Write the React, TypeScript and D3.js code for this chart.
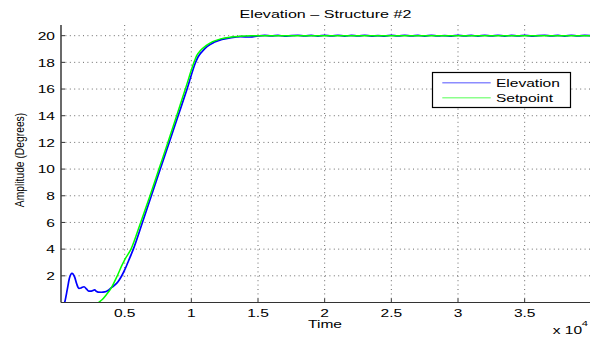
import React from "react";
import * as d3 from "d3";

const titleText = "Elevation \u2013 Structure #2";
const xLabel = "Time";
const yLabel = "Amplitude (Degrees)";
const seriesNames = ["Elevation", "Setpoint"];

const xTicks = [5000, 10000, 15000, 20000, 25000, 30000, 35000];
const xTickLabels = ["0.5", "1", "1.5", "2", "2.5", "3", "3.5"];
const yTicks = [2, 4, 6, 8, 10, 12, 14, 16, 18, 20];

const elevTime = [
  300, 500, 700, 850, 1050, 1250, 1400, 1575, 1750, 1950, 2150, 2300, 2500, 2750, 2900, 3000, 3250, 3500, 3750, 4000,
  4250, 4500, 4750, 5000, 5300, 5650, 6330, 7000, 7670, 8340, 9010, 9680, 10300, 10500, 10800, 11200, 11700, 12300,
  13000, 13700, 14400, 15000, 15500, 16000, 16500, 17000, 17500, 18000, 18500, 19000, 19500, 20000, 20500, 21000,
  21500, 22000, 22500, 23000, 23500, 24000, 24500, 25000, 25500, 26000, 26500, 27000, 27500, 28000, 28500, 29000,
  29500, 30000, 30500, 31000, 31500, 32000, 32500, 33000, 33500, 34000, 34500, 35000, 35500, 36000, 36500, 37000,
  37500, 38000, 38500, 39000, 39500, 39900,
];
const elevValue = [
  -0.5, 0, 1.0, 1.8, 2.19, 1.9, 1.4, 1.06, 1.1, 1.18, 1.0, 0.86, 0.86, 0.94, 0.82, 0.78, 0.77, 0.79, 0.9, 1.11,
  1.3, 1.56, 1.95, 2.44, 3.15, 4.0, 6.0, 8.0, 10.0, 12.0, 14.0, 16.0, 17.95, 18.4, 18.8, 19.2, 19.5, 19.72,
  19.86, 19.93, 19.9, 19.98, 20.02, 19.98, 20.02, 19.97, 20.01, 20.03, 19.98, 20.02, 19.97, 20.03, 19.99, 20.03,
  19.97, 20.02, 19.98, 20.03, 19.97, 20.01, 19.97, 20.03, 19.99, 20.03, 19.98, 20.02, 19.97, 20.03, 19.98, 20.01,
  19.97, 20.03, 19.98, 20.02, 19.97, 20.03, 19.99, 20.03, 19.97, 20.02, 19.98, 20.03, 19.97, 20.01, 20.03, 19.98,
  20.02, 19.97, 20.03, 19.98, 20.02, 20.0,
];

const setTime = [
  2800, 3050, 3300, 3600, 4000, 4400, 4800, 5000, 5475, 6200, 6900, 7570, 8240, 8900, 9550, 10200, 10400, 10700,
  11100, 11600, 12200, 12900, 13600, 14500, 15200, 39900,
];
const setValue = [
  -0.3, 0, 0.2, 0.55, 1.1, 1.9, 2.8, 3.2, 4.0, 6.0, 8.0, 10.0, 12.0, 14.0, 16.0, 18.0, 18.5, 18.9,
  19.25, 19.55, 19.76, 19.89, 19.95, 19.99, 20.0, 20.0,
];

const W = 594;
const H = 337;
const L = 61, R = 590, T = 25, B = 302.5;
const FONT = "'Liberation Sans', Arial, Helvetica, sans-serif";
const SX = 1.48;

function SText(props: { x: number; y: number; anchor?: string; size?: number; sx?: number; children: React.ReactNode }) {
  const { x, y, anchor = "start", size = 10.5, sx = SX, children } = props;
  return (
    <text
      transform={`translate(${x},${y}) scale(${sx},1)`}
      textAnchor={anchor}
      fontSize={size}
      fontFamily={FONT}
      fill="#000"
    >
      {children}
    </text>
  );
}

export default function App() {
  const x = d3.scaleLinear().domain([225, 39900]).range([L, R]);
  const y = d3.scaleLinear().domain([0, 20.8]).range([B, T]);

  const elev = elevTime.map((t, i) => [t, elevValue[i]] as [number, number]);
  const setp = setTime.map((t, i) => [t, setValue[i]] as [number, number]);
  const line = d3
    .line<[number, number]>()
    .x((d) => x(d[0]))
    .y((d) => y(d[1]))
    .curve(d3.curveMonotoneX);

  const gridColor = "#6a6a6a";
  const dash = "1 3.4";

  return (
    <svg width={W} height={H} style={{ position: "absolute", left: 0, top: 0, background: "#fff" }}>
      <defs>
        <clipPath id="plotclip">
          <rect x={L} y={T - 2} width={R - L} height={B - T + 2} />
        </clipPath>
      </defs>
      <rect x={0} y={0} width={W} height={H} fill="#fff" />
      {xTicks.map((t) => (
        <line key={"gx" + t} x1={x(t)} x2={x(t)} y1={T} y2={B} stroke={gridColor} strokeWidth={1} strokeDasharray={dash} />
      ))}
      {yTicks.map((v) => (
        <line key={"gy" + v} x1={L} x2={R} y1={y(v)} y2={y(v)} stroke={gridColor} strokeWidth={1} strokeDasharray={dash} />
      ))}
      {xTicks.map((t) => (
        <line key={"tx" + t} x1={x(t)} x2={x(t)} y1={B} y2={B - 4} stroke="#333" strokeWidth={1} />
      ))}
      {yTicks.map((v) => (
        <line key={"ty" + v} x1={L} x2={L + 4} y1={y(v)} y2={y(v)} stroke="#333" strokeWidth={1} />
      ))}
      <g clipPath="url(#plotclip)">
        <path d={line(elev) || ""} fill="none" stroke="#0000ff" strokeWidth={1.7} />
        <path d={line(setp) || ""} fill="none" stroke="#00ff00" strokeWidth={1.5} />
      </g>
      <line x1={L} x2={L} y1={T} y2={B} stroke="#444" strokeWidth={1.6} />
      <line x1={L} x2={R} y1={B} y2={B} stroke="#333" strokeWidth={1.2} />
      {xTicks.map((t, i) => (
        <SText key={"lx" + t} x={x(t)} y={316.7} anchor="middle">
          {xTickLabels[i]}
        </SText>
      ))}
      {yTicks.map((v) => (
        <SText key={"ly" + v} x={55} y={y(v) + 4.2} anchor="end">
          {String(v)}
        </SText>
      ))}
      <SText x={325.5} y={18} anchor="middle" size={11} sx={1.465}>
        {titleText}
      </SText>
      <SText x={325} y={328.3} anchor="middle">
        {xLabel}
      </SText>
      <text
        transform={`translate(24,160) scale(1.3,1) rotate(-90)`}
        textAnchor="middle"
        fontSize={10.3}
        fontFamily={FONT}
        fill="#000"
      >
        {yLabel}
      </text>
      <SText x={552.7} y={334.3} anchor="start">
        {"x 10"}
      </SText>
      <SText x={581.7} y={326} anchor="start" size={7.5}>
        {"4"}
      </SText>
      <rect x={432.5} y={72.5} width={138} height={35} fill="#fff" stroke="#000" strokeWidth={1.2} />
      <line x1={442.3} x2={490.7} y1={82.7} y2={82.7} stroke="#8c8cff" strokeWidth={1.5} />
      <line x1={442.3} x2={490.7} y1={97.7} y2={97.7} stroke="#8cff8c" strokeWidth={1.5} />
      <SText x={496} y={86.7}>
        {seriesNames[0]}
      </SText>
      <SText x={496} y={101.5}>
        {seriesNames[1]}
      </SText>
    </svg>
  );
}
